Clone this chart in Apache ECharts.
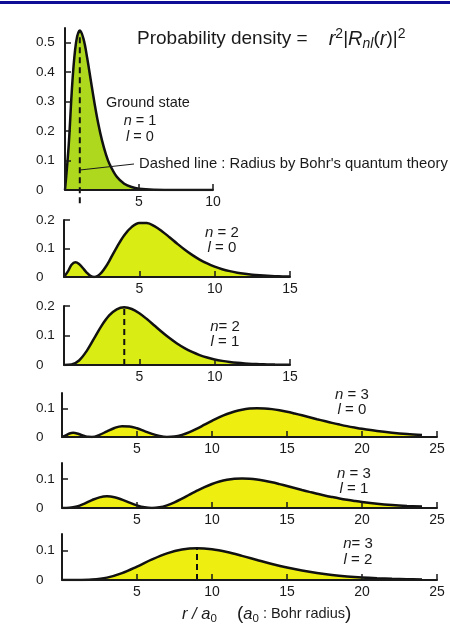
<!DOCTYPE html>
<html>
<head>
<meta charset="utf-8">
<script src="https://cdn.jsdelivr.net/npm/echarts@6/dist/echarts.min.js"></script>
<style>
  html, body { margin: 0; padding: 0; background: #fff; }
  #chart { width: 450px; height: 624px; }
</style>
</head>
<body>
<div id="chart"></div>
<script>
// Radial probability density r^2 |R_nl(r)|^2 for hydrogen, r in units of a0
const r10 = [0, 0.25, 0.5, 0.75, 1, 1.25, 1.5, 1.75, 2, 2.25, 2.5, 2.75, 3, 3.5, 4, 4.5, 5, 6, 7, 8, 10];
const p10 = [0, 0.1516, 0.3679, 0.5020, 0.5413, 0.5130, 0.4481, 0.3699, 0.2931, 0.2250, 0.1684, 0.1236, 0.0892, 0.0447, 0.0215, 0.0100, 0.0045, 0.0009, 0.0002, 0, 0];

const r20 = [0, 0.25, 0.5, 0.75, 1, 1.25, 1.5, 1.75, 2, 2.25, 2.5, 2.75, 3, 3.5, 4, 4.5, 5, 5.5, 6, 6.5, 7, 7.5, 8, 8.5, 9, 9.5, 10, 10.5, 11, 11.5, 12, 12.5, 13, 13.5, 14, 14.5, 15];
const p20 = [0, 0.0186, 0.0427, 0.0519, 0.0460, 0.0315, 0.0157, 0.0042, 0, 0.0042, 0.0160, 0.0340, 0.0560, 0.1040, 0.1465, 0.1758, 0.1895, 0.1893, 0.1785, 0.1608, 0.1396, 0.1176, 0.0966, 0.0776, 0.0612, 0.0475, 0.0363, 0.0274, 0.0205, 0.0151, 0.0111, 0.0080, 0.0058, 0.0041, 0.0029, 0.0021, 0.0015];

const r21 = [0, 0.5, 1, 1.5, 2, 2.5, 3, 3.5, 4, 4.5, 5, 5.5, 6, 6.5, 7, 7.5, 8, 8.5, 9, 9.5, 10, 10.5, 11, 11.5, 12, 12.5, 13, 13.5, 14, 14.5, 15];
const p21 = [0, 0.0016, 0.0153, 0.0471, 0.0902, 0.1336, 0.1680, 0.1888, 0.1954, 0.1898, 0.1755, 0.1558, 0.1339, 0.1118, 0.0912, 0.0729, 0.0573, 0.0443, 0.0337, 0.0254, 0.0189, 0.0140, 0.0102, 0.0074, 0.0053, 0.0038, 0.0027, 0.0019, 0.0013, 0.0009, 0.0007];

const r30 = [0, 0.25, 0.5, 0.75, 1, 1.25, 1.5, 1.75, 2, 2.5, 3, 3.5, 4, 4.5, 5, 5.5, 6, 6.5, 7, 7.5, 8, 8.5, 9, 9.5, 10, 10.5, 11, 11.5, 12, 12.5, 13, 13.5, 14, 14.5, 15, 15.5, 16, 16.5, 17, 17.5, 18, 18.5, 19, 19.5, 20, 21, 22, 23, 24];
const p30 = [0, 0.0055, 0.0125, 0.0148, 0.0126, 0.0080, 0.0034, 0.0005, 0.0002, 0.0073, 0.0201, 0.0319, 0.0382, 0.0373, 0.0306, 0.0208, 0.0109, 0.0034, 0.0001, 0.0016, 0.0076, 0.0174, 0.0297, 0.0434, 0.0571, 0.0699, 0.0810, 0.0898, 0.0962, 0.1001, 0.1015, 0.1008, 0.0982, 0.0941, 0.0890, 0.0829, 0.0764, 0.0696, 0.0628, 0.0562, 0.0498, 0.0439, 0.0383, 0.0333, 0.0287, 0.0210, 0.0151, 0.0106, 0.0074];

const r31 = [0, 0.5, 1, 1.5, 2, 2.5, 3, 3.5, 4, 4.5, 5, 5.5, 6, 6.5, 7, 7.5, 8, 8.5, 9, 9.5, 10, 10.5, 11, 11.5, 12, 12.5, 13, 13.5, 14, 14.5, 15, 15.5, 16, 16.5, 17, 17.5, 18, 18.5, 19, 19.5, 20, 21, 22, 23, 24];
const p31 = [0, 0.0006, 0.0052, 0.0153, 0.0274, 0.0367, 0.0401, 0.0370, 0.0289, 0.0187, 0.0091, 0.0024, 0, 0.0024, 0.0092, 0.0195, 0.0322, 0.0459, 0.0595, 0.0721, 0.0828, 0.0912, 0.0972, 0.1007, 0.1018, 0.1008, 0.0980, 0.0937, 0.0884, 0.0822, 0.0757, 0.0689, 0.0621, 0.0555, 0.0492, 0.0432, 0.0378, 0.0327, 0.0282, 0.0242, 0.0206, 0.0148, 0.0104, 0.0072, 0.0049];

const r32 = [0, 1, 2, 3, 4, 5, 6, 7, 8, 9, 10, 11, 12, 13, 14, 15, 16, 17, 18, 19, 20, 21, 22, 23, 24];
const p32 = [0, 0.0000, 0.0014, 0.0080, 0.0231, 0.0453, 0.0695, 0.0899, 0.1029, 0.1071, 0.1034, 0.0941, 0.0814, 0.0676, 0.0541, 0.0420, 0.0318, 0.0235, 0.0170, 0.0121, 0.0084, 0.0058, 0.0039, 0.0026, 0.0017];

// Most probable radius (Bohr orbit radius n^2 a0) and peak height of each dashed marker
const bohr10 = [1, 0.5413];
const bohr21 = [4, 0.1954];
const bohr32 = [9, 0.1071];

// Tick labels
const xTicks10 = [5, 10];
const xTicks15 = [5, 10, 15];
const xTicks25 = [5, 10, 15, 20, 25];
const yTicks1 = [0, 0.1, 0.2, 0.3, 0.4, 0.5];
const yTicks2 = [0, 0.1, 0.2];
const yTicks3 = [0, 0.1];

const zip = (xs, ys) => xs.map((x, i) => [x, ys[i]]);

const FONT = '"Liberation Sans", Arial, Helvetica, sans-serif';
const INK = '#1a1a1a';

const panels = [
  { left: 65, top: 28, width: 148, height: 162, xMax: 10, yMax: 0.55, xt: xTicks10, yt: yTicks1, r: r10, p: p10, fill: '#aed81e' },
  { left: 64, top: 220, width: 226, height: 57, xMax: 15, yMax: 0.2, xt: xTicks15, yt: yTicks2, r: r20, p: p20, fill: '#d9ec14' },
  { left: 64, top: 306, width: 226, height: 59, xMax: 15, yMax: 0.2, xt: xTicks15, yt: yTicks2, r: r21, p: p21, fill: '#d9ec14' },
  { left: 62, top: 393, width: 375, height: 44, xMax: 25, yMax: 0.155, xt: xTicks25, yt: yTicks3, r: r30, p: p30, fill: '#eeee10' },
  { left: 62, top: 463, width: 375, height: 45, xMax: 25, yMax: 0.155, xt: xTicks25, yt: yTicks3, r: r31, p: p31, fill: '#eeee10' },
  { left: 62, top: 534, width: 375, height: 46, xMax: 25, yMax: 0.155, xt: xTicks25, yt: yTicks3, r: r32, p: p32, fill: '#eeee10' }
];

const grid = [], xAxis = [], yAxis = [], series = [];

panels.forEach((pn, i) => {
  grid.push({ left: pn.left, top: pn.top, width: pn.width, height: pn.height, outerBoundsMode: 'none' });
  xAxis.push({
    type: 'value', gridIndex: i, min: 0, max: pn.xMax, z: 5,
    axisLine: { lineStyle: { color: INK, width: 2 } },
    axisTick: { inside: true, length: 6, customValues: pn.xt, lineStyle: { color: INK, width: 1.5 } },
    axisLabel: { customValues: pn.xt, margin: 5, color: INK, fontFamily: FONT, fontSize: 14 },
    splitLine: { show: false }
  });
  yAxis.push({
    type: 'value', gridIndex: i, min: 0, max: pn.yMax, z: 5,
    axisLine: { show: true, lineStyle: { color: INK, width: 2 } },
    axisTick: { show: true, inside: true, length: 6, customValues: pn.yt, lineStyle: { color: INK, width: 1.5 } },
    axisLabel: { customValues: pn.yt, align: 'left', margin: pn.left - 36, color: INK, fontFamily: FONT, fontSize: 13.5 },
    splitLine: { show: false }
  });
  series.push({
    type: 'line', xAxisIndex: i, yAxisIndex: i,
    data: zip(pn.r, pn.p),
    smooth: 0.35, symbol: 'none',
    lineStyle: { color: '#111', width: 2.5 },
    areaStyle: { color: pn.fill, opacity: 1 },
    silent: true, z: 2
  });
});

// Dashed markers at the most probable radius
const dashed = (idx, pt, below) => ({
  type: 'line', xAxisIndex: idx, yAxisIndex: idx,
  data: [[pt[0], below], [pt[0], pt[1]]],
  symbol: 'none', clip: false, silent: true, z: 3,
  lineStyle: { color: '#111', width: 2, type: [6, 4] }
});
series.push(dashed(0, bohr10, -0.045));
series.push(dashed(2, bohr21, 0));
series.push(dashed(5, bohr32, 0));

const txt = (x, y, text, size, extra) => ({
  type: 'text', x, y, z: 10,
  style: Object.assign({
    text, fill: INK, font: size + 'px ' + FONT,
    textAlign: 'center', textVerticalAlign: 'middle',
    rich: {
      i: { fontStyle: 'italic', fontSize: size, fontFamily: FONT, fill: INK }
    }
  }, extra || {})
});

const graphic = [
  { type: 'rect', shape: { x: 0, y: 1, width: 450, height: 3 }, style: { fill: '#0d0d96' } },
  // heading
  {
    type: 'text', x: 137, y: 39, z: 10,
    style: {
      text: 'Probability density =    {i|r}{sup|2}|{i|R}{sub|nl}({i|r})|{sup|2}',
      font: '19px ' + FONT, fill: INK, textVerticalAlign: 'middle',
      rich: {
        i: { fontStyle: 'italic', fontSize: 20, fontFamily: FONT, fill: INK, lineHeight: 24 },
        sup: { fontSize: 14, fontFamily: FONT, fill: INK, verticalAlign: 'top', lineHeight: 15 },
        sub: { fontSize: 14, fontStyle: 'italic', fontFamily: FONT, fill: INK, verticalAlign: 'bottom', lineHeight: 15 }
      }
    }
  },
  txt(106, 103, 'Ground state', 14.5, { textAlign: 'left' }),
  txt(140, 121, '{i|n} = 1', 14.5),
  txt(140, 137, '{i|l} = 0', 14.5),
  txt(139, 164, "Dashed line : Radius by Bohr's quantum theory", 14.8, { textAlign: 'left' }),
  { type: 'line', shape: { x1: 80, y1: 170, x2: 134, y2: 164 }, style: { stroke: INK, lineWidth: 1 }, z: 10 },
  txt(222, 233, '{i|n} = 2', 15),
  txt(222, 248, '{i|l} = 0', 15),
  txt(225, 327, '{i|n}= 2', 15),
  txt(225, 342, '{i|l} = 1', 15),
  txt(352, 395, '{i|n} = 3', 15),
  txt(352, 410, '{i|l} = 0', 15),
  txt(354, 474, '{i|n} = 3', 15),
  txt(354, 489, '{i|l} = 1', 15),
  txt(358, 544, '{i|n}= 3', 15),
  txt(358, 560, '{i|l} = 2', 15),
  // axis caption
  {
    type: 'text', x: 182, y: 614, z: 10,
    style: {
      text: '{i|r / a}{sub|0}     {p|(}{i|a}{sub|0} : Bohr radius{p|)}',
      font: '14.5px ' + FONT, fill: INK, textVerticalAlign: 'middle',
      rich: {
        i: { fontStyle: 'italic', fontSize: 16.5, fontFamily: FONT, fill: INK, lineHeight: 22 },
        sub: { fontSize: 11.5, fontFamily: FONT, fill: INK, verticalAlign: 'bottom', lineHeight: 14 },
        p: { fontSize: 19, fontFamily: FONT, fill: INK, lineHeight: 22 }
      }
    }
  }
];

const chart = echarts.init(document.getElementById('chart'), null, { renderer: 'canvas' });
chart.setOption({
  animation: false,
  backgroundColor: '#ffffff',
  grid, xAxis, yAxis, series, graphic
});
</script>
</body>
</html>
